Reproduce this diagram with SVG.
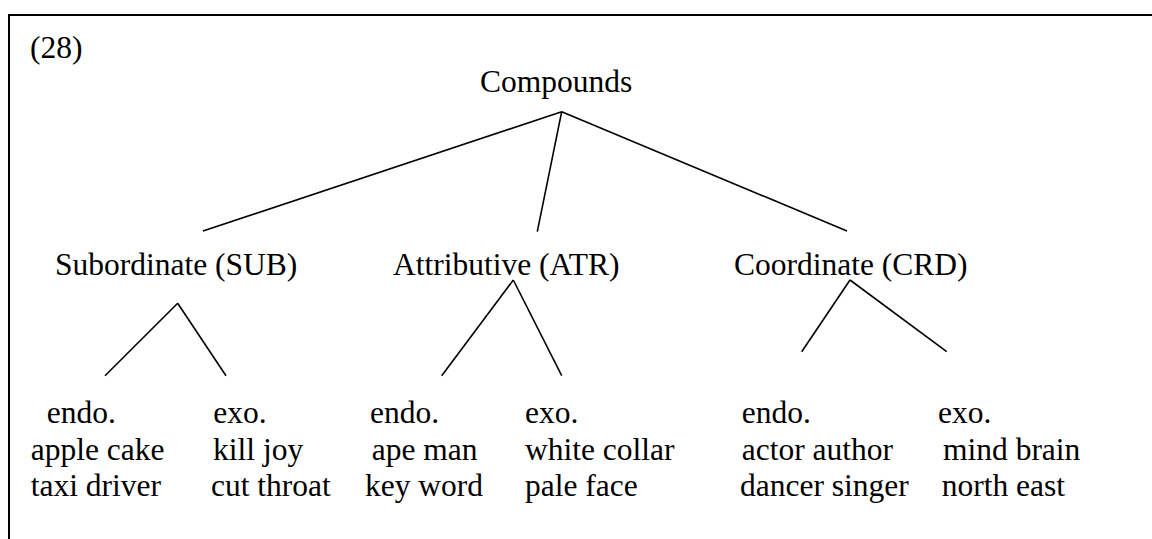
<svg xmlns="http://www.w3.org/2000/svg" width="1152" height="539" viewBox="0 0 1152 539">
<style>
text{font-family:"Liberation Serif","Times New Roman",serif;font-size:31.5px;fill:#000}
.e{stroke:#000;stroke-width:1.6;fill:none;stroke-linecap:butt}
.b{stroke:#000;stroke-width:2;fill:none}
</style>
<rect width="1152" height="539" fill="#fff"/>
<g id="frame">
<path class="b" d="M9 539 V15 H1152"/>
<text x="30" y="58">(28)</text>
</g>
<g id="connectors">
<line class="e" x1="561.7" y1="111.7" x2="203" y2="231"/>
<line class="e" x1="561.7" y1="111.7" x2="537.3" y2="231.7"/>
<line class="e" x1="561.7" y1="111.7" x2="847" y2="231"/>
<line class="e" x1="177.7" y1="303.3" x2="105" y2="375.7"/>
<line class="e" x1="177.7" y1="303.3" x2="226" y2="375.7"/>
<line class="e" x1="513.3" y1="280" x2="441.7" y2="375.7"/>
<line class="e" x1="513.3" y1="280" x2="561.7" y2="375.7"/>
<line class="e" x1="850" y1="280" x2="801.7" y2="351.7"/>
<line class="e" x1="850" y1="280" x2="946.7" y2="351.7"/>
</g>
<g id="compounds"><text x="480" y="92">Compounds</text></g>
<g id="sub"><text x="55" y="275">Subordinate (SUB)</text></g>
<g id="atr"><text x="393" y="275">Attributive (ATR)</text></g>
<g id="crd"><text x="734" y="275">Coordinate (CRD)</text></g>
<g id="sub-endo">
<text x="46.7" y="423">endo.</text>
<text x="30.7" y="459.5">apple cake</text>
<text x="30.7" y="496">taxi driver</text>
</g>
<g id="sub-exo">
<text x="213.3" y="423">exo.</text>
<text x="213" y="459.5">kill joy</text>
<text x="211" y="496">cut throat</text>
</g>
<g id="atr-endo">
<text x="370" y="423">endo.</text>
<text x="371.7" y="459.5">ape man</text>
<text x="365" y="496">key word</text>
</g>
<g id="atr-exo">
<text x="525" y="423">exo.</text>
<text x="525" y="459.5">white collar</text>
<text x="525" y="496">pale face</text>
</g>
<g id="crd-endo">
<text x="741.7" y="423">endo.</text>
<text x="741.7" y="459.5">actor author</text>
<text x="740" y="496">dancer singer</text>
</g>
<g id="crd-exo">
<text x="938" y="423">exo.</text>
<text x="943" y="459.5">mind brain</text>
<text x="941.7" y="496">north east</text>
</g>
</svg>
